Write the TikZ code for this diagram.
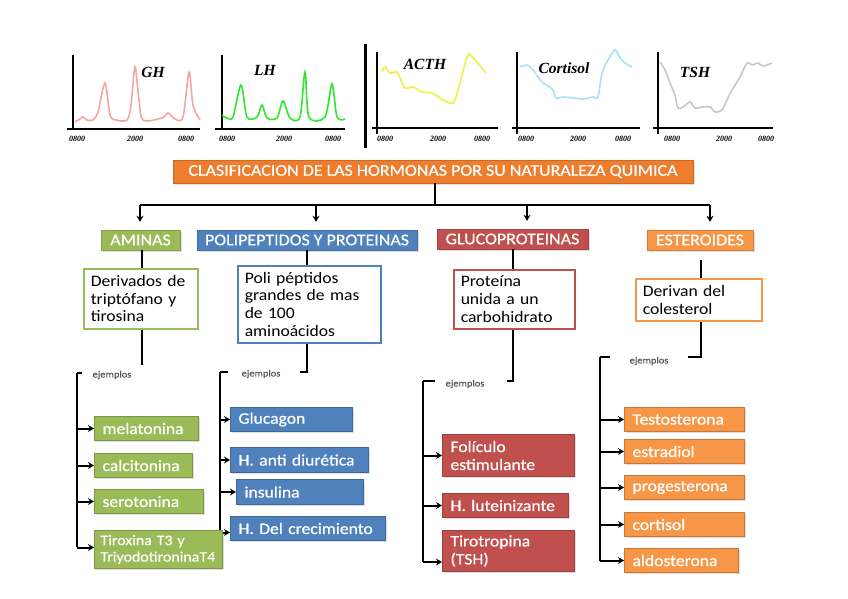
\documentclass[tikz,border=0pt]{standalone}
\usepackage{fontspec}
\setmainfont[FakeStretch=1.1]{Carlito}
\newfontfamily\wfont[FakeStretch=1.1,FakeBold=0.6]{Carlito}
\newfontfamily\chartfont{Liberation Serif}
\usetikzlibrary{arrows.meta,shadows}
\definecolor{cgreen}{HTML}{9BBB59}
\definecolor{cblue}{HTML}{4F81BD}
\definecolor{cred}{HTML}{C0504D}
\definecolor{corange}{HTML}{F79646}
\definecolor{ctitle}{HTML}{EE7D2E}
\definecolor{cgh}{HTML}{F4A6A0}
\definecolor{clh}{HTML}{2EE82E}
\definecolor{cacth}{HTML}{F0F048}
\definecolor{ccort}{HTML}{A8E2F4}
\definecolor{ctsh}{HTML}{C8C8C8}
\begin{document}
\begin{tikzpicture}[x=1pt,y=-1pt,
  conn/.style={line width=2pt,black},
  arr/.style={conn,-{Stealth[length=6pt,width=7pt]}},
  axis/.style={line width=1.5pt,black},
  curve/.style={line width=1.6pt,smooth,tension=0.5},
  tick/.style={font=\chartfont\bfseries\itshape\fontsize{8}{9}\selectfont},
  hlabel/.style={font=\chartfont\bfseries\itshape\fontsize{15.5}{17}\selectfont},
  shad/.style={drop shadow={opacity=0.25,shadow xshift=1.5pt,shadow yshift=-1.5pt}},
  cat/.style={draw=#1!85!black,fill=#1,text=white,shad,inner sep=0pt,minimum height=20pt,
    font=\wfont\fontsize{16.3}{18}\selectfont},
  desc/.style={draw=#1,line width=1.5pt,fill=white,text=black,align=left,anchor=north west,
    inner xsep=7pt,inner ysep=2pt,font=\fontsize{16}{17.7}\selectfont},
  ex/.style={draw=#1!80!black,line width=1pt,fill=#1,text=white,align=left,anchor=north west,
    inner xsep=8pt,inner ysep=2pt,shad,font=\wfont\fontsize{16}{18}\selectfont},
  ejem/.style={text=black!65,inner sep=1pt,font=\wfont\fontsize{9.5}{11}\selectfont}
]
\useasboundingbox (0,0) rectangle (848,599);
\fill[white] (0,0) rectangle (848,599);

% ---------- charts ----------
% GH
\draw[axis] (73,55) -- (73,130);
\draw[axis] (67,129) -- (200,129);
\draw[curve,cgh] plot coordinates {(75,122) (80,119) (83,117) (87,120) (93,120) (98,112) (105,83) (110,115) (116,120) (127,120) (131,105) (135,67) (139,100) (143,120) (162,118) (168,113) (175,119) (183,117) (189,72) (193,105) (200,120)};
\node[hlabel] (gh) at (153,72) {GH};
\node[tick] (gh1) at (77,139) {0800};
\node[tick] (gh2) at (135,139) {2000};
\node[tick] (gh3) at (186,139) {0800};
% LH
\draw[axis] (222,55) -- (222,130);
\draw[axis] (215,129) -- (345,129);
\draw[curve,clh] plot coordinates {(222,115) (227,118) (233,117) (241,85) (247,117) (257,117) (262,105) (267,118) (277,118) (283,101) (290,118) (300,117) (305,72) (309,117) (325,117) (332,84) (337,117) (345,119)};
\node[hlabel] (lh) at (265,70) {LH};
\node[tick] (lh1) at (227,139) {0800};
\node[tick] (lh2) at (284,139) {2000};
\node[tick] (lh3) at (333,139) {0800};
% divider
\draw[line width=3pt] (365,44) -- (365,148);
% ACTH
\draw[axis] (377,52) -- (377,134);
\draw[axis] (372,128) -- (498,128);
\draw[curve,cacth] plot coordinates {(382,72) (385,67) (390,73) (397,72) (400,78) (405,88) (413,87) (422,92) (432,93) (443,100) (453,103) (458,90) (467,57) (470,55) (477,62) (486,73)};
\node[hlabel] (acth) at (425,64) {ACTH};
\node[tick] (ac1) at (385,139) {0800};
\node[tick] (ac2) at (438,139) {2000};
\node[tick] (ac3) at (482,139) {0800};
% Cortisol
\draw[axis] (517,52) -- (517,134);
\draw[axis] (512,128) -- (640,128);
\draw[curve,ccort] plot coordinates {(520,67) (527,65) (533,70) (542,82) (550,87) (553,90) (556,98) (563,97) (573,98) (583,99) (593,97) (598,97) (602,73) (608,60) (615,50) (620,58) (625,63) (632,67)};
\node[hlabel] (cort) at (564,68) {Cortisol};
\node[tick] (co1) at (526,139) {0800};
\node[tick] (co2) at (578,139) {2000};
\node[tick] (co3) at (623,139) {0800};
% TSH
\draw[axis] (658,52) -- (658,134);
\draw[axis] (653,128) -- (773,128);
\draw[curve,ctsh] plot coordinates {(660,62) (665,70) (670,83) (675,95) (678,108) (683,107) (690,102) (695,108) (703,107) (710,107) (715,112) (722,110) (727,100) (732,90) (740,77) (747,63) (752,65) (758,63) (763,66) (772,63)};
\node[hlabel] (tsh) at (695,72) {TSH};
\node[tick] (ts1) at (672,139) {0800};
\node[tick] (ts2) at (724,139) {2000};
\node[tick] (ts3) at (766,139) {0800};

% ---------- title ----------
\node[fill=ctitle,draw=ctitle!85!black,text=white,shad,minimum width=520pt,minimum height=23pt,inner sep=0pt,
  font=\wfont\fontsize{16.3}{18}\selectfont] (title) at (433,171.5) {CLASIFICACION DE LAS HORMONAS POR SU NATURALEZA QUIMICA};

% ---------- categories ----------
\node[cat=cgreen,minimum width=79pt] (amin) at (140.5,240) {AMINAS};
\node[cat=cblue,minimum width=220pt] (poli) at (307,240) {POLIPEPTIDOS Y PROTEINAS};
\node[cat=cred,minimum width=151pt] (gluc) at (512.5,239) {GLUCOPROTEINAS};
\node[cat=corange,minimum width=106pt] (este) at (700,240) {ESTEROIDES};

\coordinate (hub) at (435,205);
\coordinate (hA) at (140,205);
\coordinate (hP) at (316,205);
\coordinate (hG) at (527,205);
\coordinate (hE) at (710,205);
\draw[conn] (title.south -| hub) -- (hub);
\draw[conn] (hA) -- (hE);
\draw[arr] (hA) -- ([yshift=8pt]hA |- amin.north);
\draw[arr] (hP) -- ([yshift=8pt]hP |- poli.north);
\draw[arr] (hG) -- ([yshift=8pt]hG |- gluc.north);
\draw[arr] (hE) -- ([yshift=8pt]hE |- este.north);

% ---------- descriptions ----------
\node[desc=cgreen,text width=100pt,minimum height=60pt] (dA) at (83,268) {Derivados de\\triptófano y\\tirosina};
\node[desc=cblue,text width=129pt,minimum height=77pt] (dP) at (237,265) {Poli péptidos\\grandes de mas\\de 100\\aminoácidos};
\node[desc=cred,text width=107pt,minimum height=59pt] (dG) at (453,269) {Proteína\\unida a un\\carbohidrato};
\node[desc=corange,text width=112pt,minimum height=42pt] (dE) at (635,278) {Derivan del\\colesterol};

\coordinate (vA) at (142,250);
\coordinate (vP) at (307,250);
\coordinate (vG) at (513,249);
\coordinate (vE) at (701,260);
\draw[conn] (vA) -- (vA |- dA.north);
\draw[conn] (vP) -- (vP |- dP.north);
\draw[conn] (vG) -- (vG |- dG.north);
\draw[conn] (vE) -- (vE |- dE.north);

% ---------- ejemplos brackets ----------
\coordinate (aT) at (77,373);
\coordinate (pT) at (220,372);
\coordinate (gT) at (423,381);
\coordinate (eT) at (600,357);
\draw[conn] (vA |- dA.south) -- (142,365);
\draw[conn] (82,373) -- (aT);
\node[ejem] (ejA) at (112,375) {ejemplos};
\draw[conn] (vP |- dP.south) -- (307,372) -- (300,372);
\draw[conn] (228,372) -- (pT);
\node[ejem] (ejP) at (261,374) {ejemplos};
\draw[conn] (vG |- dG.south) -- (513,381) -- (507,381);
\draw[conn] (435,381) -- (gT);
\node[ejem] (ejG) at (465,384) {ejemplos};
\draw[conn] (vE |- dE.south) -- (701,357) -- (688,357);
\draw[conn] (610,357) -- (eT);
\node[ejem] (ejE) at (649,361) {ejemplos};

% ---------- example boxes ----------
\node[ex=cgreen,text width=88pt,minimum height=24pt] (mel) at (94,416) {melatonina};
\node[ex=cgreen,text width=82pt,minimum height=24pt] (cal) at (94,453) {calcitonina};
\node[ex=cgreen,text width=93pt,minimum height=24pt] (ser) at (94,489) {serotonina};

\node[ex=cblue,text width=106pt,minimum height=24pt] (glu) at (230,407) {Glucagon};
\node[ex=cblue,text width=122pt,minimum height=25pt] (adh) at (230,447) {H. anti diurética};
\node[ex=cblue,text width=111pt,minimum height=25pt] (ins) at (236,479) {insulina};
\node[ex=cblue,text width=139pt,minimum height=24pt] (cre) at (230,516) {H. Del crecimiento};

\draw[conn] (aT) -- (aT |- 0,547);
\draw[arr] (aT |- mel.west) -- (mel.west);
\draw[arr] (aT |- cal.west) -- (cal.west);
\draw[arr] (aT |- ser.west) -- (ser.west);
\draw[conn] (pT) -- (pT |- 0,532);
\draw[arr] (pT |- glu.west) -- (glu.west);
\draw[arr] (pT |- adh.west) -- (adh.west);
\draw[arr] (pT |- ins.west) -- (ins.west);
\coordinate (creIn) at ([yshift=-4pt]cre.west);
\draw[arr] (pT |- creIn) -- (creIn);

\node[ex=cgreen,text width=116pt,minimum height=38pt,inner xsep=6pt,font=\wfont\fontsize{14.5}{16.5}\selectfont] (tir) at (94,530) {Tiroxina T3 y\\TriyodotironinaT4};
\coordinate (tirIn) at ([yshift=2pt]tir.west);
\draw[arr] (aT |- tirIn) -- (tirIn);

\node[ex=cred,text width=116pt,minimum height=42pt] (fol) at (442,434) {Folículo\\estimulante};
\node[ex=cred,text width=110pt,minimum height=24pt] (lut) at (442,493) {H. luteinizante};
\node[ex=cred,text width=116pt,minimum height=41pt] (tsh) at (442,530) {Tirotropina\\(TSH)};
\coordinate (tshIn) at ([yshift=-11pt]tsh.west);
\draw[conn] (gT) -- (gT |- tshIn);
\draw[arr] (gT |- fol.west) -- (fol.west);
\draw[arr] (gT |- lut.west) -- (lut.west);
\draw[arr] (gT |- tshIn) -- (tshIn);

\node[ex=corange,text width=104pt,minimum height=24pt] (tes) at (624,407) {Testosterona};
\node[ex=corange,text width=104pt,minimum height=24pt] (est) at (624,439) {estradiol};
\node[ex=corange,text width=104pt,minimum height=24pt] (pro) at (624,475) {progesterona};
\node[ex=corange,text width=104pt,minimum height=24pt] (cor) at (624,512) {cortisol};
\node[ex=corange,text width=98pt,minimum height=24pt] (ald) at (624,548) {aldosterona};
\draw[conn] (eT) -- (eT |- ald.west);
\draw[arr] (eT |- tes.west) -- (tes.west);
\draw[arr] (eT |- est.west) -- (est.west);
\draw[arr] (eT |- pro.west) -- (pro.west);
\draw[arr] (eT |- cor.west) -- (cor.west);
\draw[arr] (eT |- ald.west) -- (ald.west);
\end{tikzpicture}
\end{document}
